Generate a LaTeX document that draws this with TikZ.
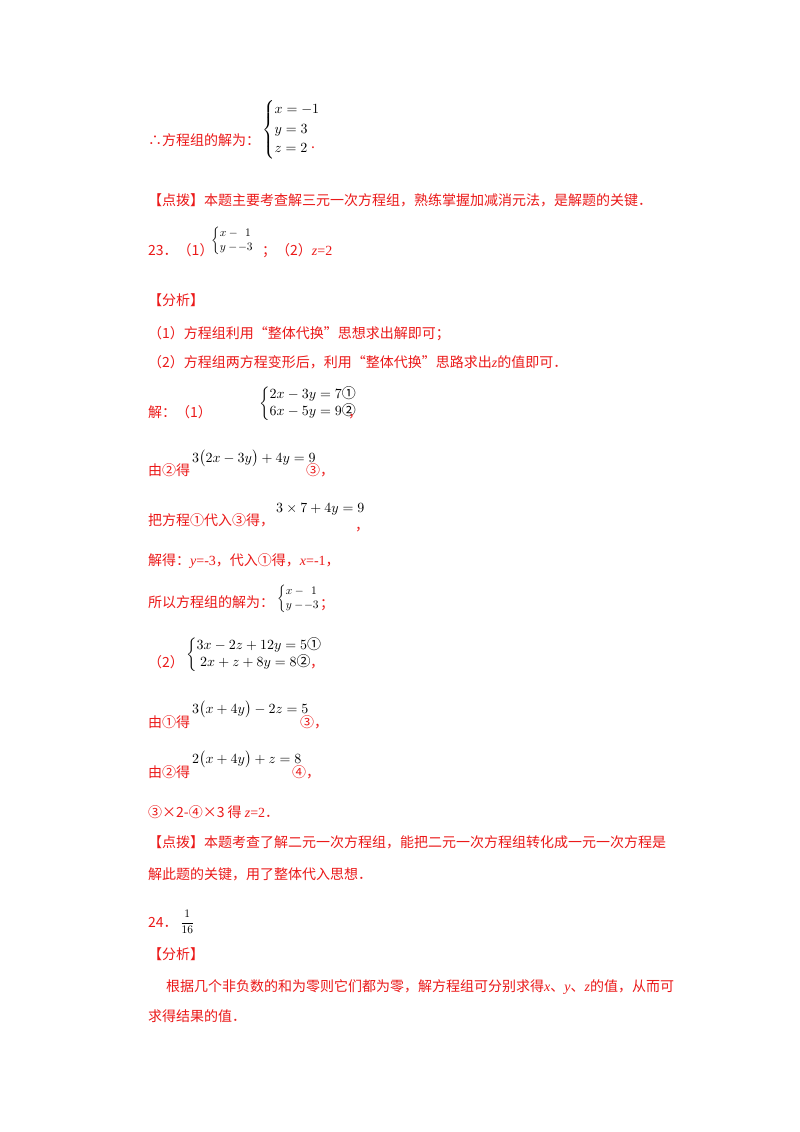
\documentclass[tikz,border=0pt]{standalone}
\usepackage{fontspec}
\usepackage{graphicx}
\setmainfont{Liberation Serif}
\newfontfamily\cjk{Noto Sans CJK SC}
\definecolor{rd}{RGB}{235,25,25}
\newcommand{\BigM}[1]{\scalebox{1.4}{$#1$}}
\newcommand{\SmM}[1]{\scalebox{1.15}{$#1$}}
\begin{document}
\begin{tikzpicture}[x=1pt,y=-1pt,
  t/.style={anchor=base west,inner sep=0pt,text=rd,font=\cjk\fontsize{14}{16}\selectfont},
  m/.style={anchor=base west,inner sep=0pt,text=black},
  ms/.style={anchor=base west,inner sep=0pt,text=black}]
\useasboundingbox[fill=white] (0,0) rectangle (800,1132);
\node[t] (a1) at (148,145) {∴方程组的解为：};
\node[m,anchor=west] (a2) at (262,130) {\BigM{\left\{\begin{array}{@{}l@{}}x=-1\\[2pt] y=3\\[2pt] z=2\end{array}\right.}};
\node[t] (a3) at (311,148) {.};
\node[t] (b1) at (148,205) {【点拨】本题主要考查解三元一次方程组，熟练掌握加减消元法，是解题的关键．};
\node[t] (c1) at (148,255) {23．（1）};
\node[ms,anchor=west] (c2) at (211,241) {\SmM{\left\{\begin{array}{@{}l@{}}x-\ \,1\\ y-\!-3\end{array}\right.}};
\node[t] (c3) at (262,255) {；（2）{\rmfamily\itshape z}{\rmfamily =2}};
\node[t] (d1) at (148,305) {【分析】};
\node[t] (d2) at (148,338) {（1）方程组利用“整体代换”思想求出解即可；};
\node[t] (d3) at (148,367) {（2）方程组两方程变形后，利用“整体代换”思路求出{\rmfamily\itshape z}的值即可．};
\node[t] (e1) at (148,417) {解：（1）};
\node[m,anchor=west] (e2) at (259,404) {\BigM{\left\{\begin{array}{@{}l@{}}2x-3y=7\mbox{\cjk ①}\\ 6x-5y=9\mbox{\cjk ②}\end{array}\right.}};
\node[t] (e3) at (348,417) {，};
\node[t] (f1) at (148,475) {由②得};
\node[m] (f2) at (192,462) {\BigM{3\bigl(2x-3y\bigr)+4y=9}};
\node[t] (f3) at (306,475) {③，};
\node[t] (g1) at (148,525) {把方程①代入③得，};
\node[m] (g2) at (276,512) {\BigM{3\times7+4y=9}};
\node[t] (g3) at (355,530) {，};
\node[t] (h1) at (148,565) {解得：{\rmfamily\itshape y}{\rmfamily =-3}，代入①得，{\rmfamily\itshape x}{\rmfamily =-1}，};
\node[t] (i1) at (148,607) {所以方程组的解为：};
\node[ms,anchor=west] (i2) at (277,599) {\SmM{\left\{\begin{array}{@{}l@{}}x-\ \,1\\ y-\!-3\end{array}\right.}};
\node[t] (i3) at (320,608) {；};
\node[t] (j1) at (148,667) {（2）};
\node[m,anchor=west] (j2) at (186,655) {\BigM{\left\{\begin{array}{@{}l@{}}3x-2z+12y=5\mbox{\cjk ①}\\ \ 2x+z+8y=8\mbox{\cjk ②}\end{array}\right.}};
\node[t] (j3) at (310,667) {，};
\node[t] (k1) at (148,727) {由①得};
\node[m] (k2) at (192,713) {\BigM{3\bigl(x+4y\bigr)-2z=5}};
\node[t] (k3) at (300,727) {③，};
\node[t] (l1) at (148,777) {由②得};
\node[m] (l2) at (192,763) {\BigM{2\bigl(x+4y\bigr)+z=8}};
\node[t] (l3) at (292,777) {④，};
\node[t] (n1) at (148,817) {③×2-④×3 得 {\rmfamily\itshape z}{\rmfamily =2}．};
\node[t] (o1) at (148,847) {【点拨】本题考查了解二元一次方程组，能把二元一次方程组转化成一元一次方程是};
\node[t] (o2) at (148,879) {解此题的关键，用了整体代入思想．};
\node[t] (p1) at (148,927) {24．};
\node[m,anchor=west] (p2) at (180,922) {\SmM{\displaystyle\frac{1}{16}}};
\node[t] (q1) at (148,959) {【分析】};
\node[t] (q2) at (166,991) {根据几个非负数的和为零则它们都为零，解方程组可分别求得{\rmfamily\itshape x}、{\rmfamily\itshape y}、{\rmfamily\itshape z}的值，从而可};
\node[t] (q3) at (148,1021) {求得结果的值．};
\end{tikzpicture}
\end{document}
